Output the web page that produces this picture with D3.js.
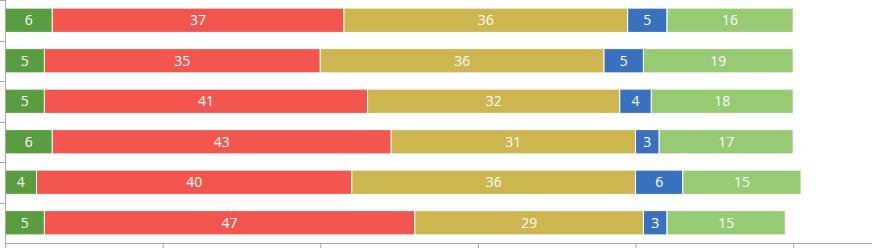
<!DOCTYPE html>
<html lang="en">
<head>
<meta charset="UTF-8">
<title>Stacked bars</title>
<style>
  body { margin: 0; background: #fff; }
  svg { display: block; }
  .lbl { font-family: "Open Sans", sans-serif; font-size: 14px; fill: #fff; }
</style>
</head>
<body>
<div id="chart"></div>
<script src="https://cdn.jsdelivr.net/npm/d3@7"></script>
<script>
// one row per bar, top to bottom
const rows = ['r1', 'r2', 'r3', 'r4', 'r5', 'r6']
const keys = ['a', 'b', 'c', 'd', 'e']
const seriesA = [6, 5, 5, 6, 4, 5]
const seriesB = [37, 35, 41, 43, 40, 47]
const seriesC = [36, 36, 32, 31, 36, 29]
const seriesD = [5, 5, 4, 3, 6, 3]
const seriesE = [16, 19, 18, 17, 15, 15]
const xTicks = [0, 20, 40, 60, 80, 100]
const colors = ['#5a9c40', '#f2564f', '#cdb54f', '#3a71be', '#96ca73']

const width = 872, height = 249
const mLeft = 5, mTop = 0, mBottom = 243

const data = rows.map((r, i) => ({
  row: r, a: seriesA[i], b: seriesB[i], c: seriesC[i], d: seriesD[i], e: seriesE[i]
}))

const x = d3.scaleLinear().domain([0, 110]).range([mLeft, 872])
const y = d3.scaleBand().domain(rows).range([mTop, mBottom]).paddingInner(0.4).paddingOuter(0.2)

const svg = d3.select('#chart').append('svg')
  .attr('width', width).attr('height', height)

const stacked = d3.stack().keys(keys)(data)

const layer = svg.selectAll('.layer')
  .data(stacked)
  .join('g')
  .attr('class', 'layer')
  .attr('fill', (d, i) => colors[i])

layer.selectAll('rect')
  .data(d => d)
  .join('rect')
  .attr('x', d => x(d[0]))
  .attr('y', d => y(d.data.row))
  .attr('width', d => x(d[1]) - x(d[0]))
  .attr('height', y.bandwidth())
  .attr('stroke', '#fff')
  .attr('stroke-width', 1)

layer.selectAll('text')
  .data(d => d)
  .join('text')
  .attr('class', 'lbl')
  .attr('x', d => (x(d[0]) + x(d[1])) / 2)
  .attr('y', d => y(d.data.row) + y.bandwidth() / 2)
  .attr('text-anchor', 'middle')
  .attr('dy', '0.36em')
  .text(d => d[1] - d[0])

// axes
const xAxis = svg.append('g')
  .attr('transform', `translate(0,${mBottom})`)
  .call(d3.axisBottom(x).tickValues(xTicks).tickSize(5).tickFormat(''))
xAxis.select('.domain').attr('stroke', '#a6a6a6').attr('d', `M${mLeft},0.5H${width}`)
xAxis.selectAll('.tick line').attr('stroke', '#a6a6a6')

const yAxis = svg.append('g')
  .attr('transform', `translate(${mLeft},0)`)
yAxis.append('line')
  .attr('x1', 0.5).attr('x2', 0.5).attr('y1', 0).attr('y2', mBottom)
  .attr('stroke', '#a6a6a6')
yAxis.selectAll('.yt')
  .data(rows)
  .join('line')
  .attr('class', 'yt')
  .attr('x1', -5).attr('x2', 0)
  .attr('y1', d => Math.round(y(d) - y.step() * 0.2) + 0.5)
  .attr('y2', d => Math.round(y(d) - y.step() * 0.2) + 0.5)
  .attr('stroke', '#a6a6a6')
</script>
</body>
</html>
